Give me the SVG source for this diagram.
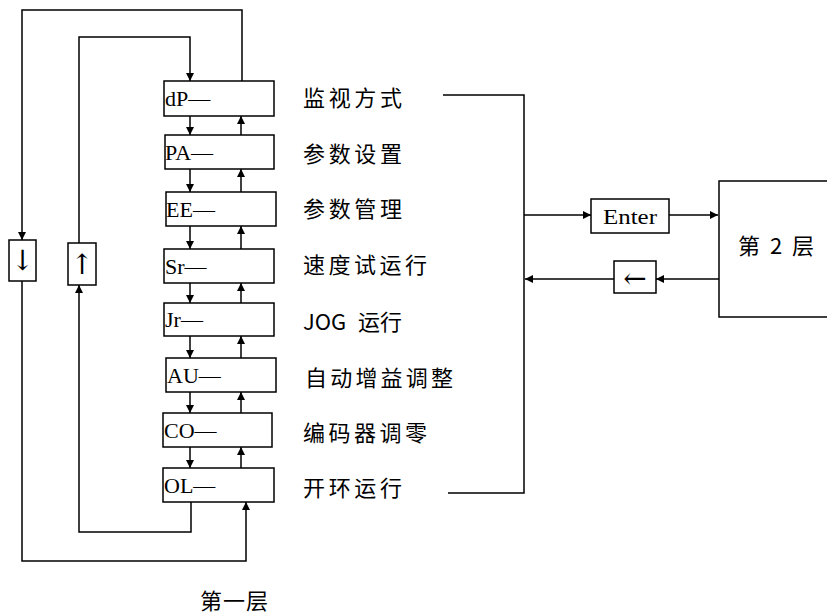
<svg xmlns="http://www.w3.org/2000/svg" width="827" height="615" viewBox="0 0 827 615">
<style>
.box{fill:#fff;stroke:#000;stroke-width:1.5}
.ln{fill:none;stroke:#000;stroke-width:1.5}
.code{font-family:"Liberation Serif","DejaVu Serif",serif;font-size:22px;fill:#000}
.lab{font-family:"Noto Sans CJK SC","Noto Sans",sans-serif;font-size:22px;fill:#000}
.sym{font-family:"DejaVu Serif","Liberation Serif",serif;font-size:28px;fill:#000}
</style>
<defs>
<marker id="ah" viewBox="0 0 10 10" refX="10" refY="5" markerWidth="8" markerHeight="8" markerUnits="userSpaceOnUse" orient="auto">
<path d="M0,0 L10,5 L0,10 z" fill="#000"/>
</marker>
</defs>
<rect width="827" height="615" fill="#fff"/>
<g id="connectors">
<polyline class="ln" points="242,81 242,10 22,10 22,240" marker-end="url(#ah)"/>
<polyline class="ln" points="22,281 22,561 246,561 246,502" marker-end="url(#ah)"/>
<polyline class="ln" points="79,243 79,37 190,37 190,81" marker-end="url(#ah)"/>
<polyline class="ln" points="191,502 191,532 79,532 79,285" marker-end="url(#ah)"/>
<line class="ln" x1="190" y1="116" x2="190" y2="135" marker-end="url(#ah)"/>
<line class="ln" x1="241" y1="135" x2="241" y2="116" marker-end="url(#ah)"/>
<line class="ln" x1="190" y1="169" x2="190" y2="192" marker-end="url(#ah)"/>
<line class="ln" x1="241" y1="192" x2="241" y2="169" marker-end="url(#ah)"/>
<line class="ln" x1="190" y1="226" x2="190" y2="249" marker-end="url(#ah)"/>
<line class="ln" x1="241" y1="249" x2="241" y2="226" marker-end="url(#ah)"/>
<line class="ln" x1="190" y1="283" x2="190" y2="303" marker-end="url(#ah)"/>
<line class="ln" x1="241" y1="303" x2="241" y2="283" marker-end="url(#ah)"/>
<line class="ln" x1="190" y1="336" x2="190" y2="358" marker-end="url(#ah)"/>
<line class="ln" x1="241" y1="358" x2="241" y2="336" marker-end="url(#ah)"/>
<line class="ln" x1="190" y1="392" x2="190" y2="413" marker-end="url(#ah)"/>
<line class="ln" x1="241" y1="413" x2="241" y2="392" marker-end="url(#ah)"/>
<line class="ln" x1="190" y1="447" x2="190" y2="468" marker-end="url(#ah)"/>
<line class="ln" x1="241" y1="468" x2="241" y2="447" marker-end="url(#ah)"/>
<polyline class="ln" points="443,95 524,95 524,493 448,493"/>
<line class="ln" x1="524" y1="215" x2="591" y2="215" marker-end="url(#ah)"/>
<line class="ln" x1="669" y1="215" x2="718" y2="215" marker-end="url(#ah)"/>
<line class="ln" x1="719" y1="279" x2="656" y2="279" marker-end="url(#ah)"/>
<line class="ln" x1="614" y1="279" x2="525" y2="279" marker-end="url(#ah)"/>
</g>
<g id="node-dp"><rect class="box" x="164" y="81" width="110" height="35"/><text class="code" x="165" y="106">dP—</text></g>
<g id="node-pa"><rect class="box" x="165" y="135" width="109" height="34"/><text class="code" x="165" y="160">PA—</text></g>
<g id="node-ee"><rect class="box" x="166" y="192" width="110" height="34"/><text class="code" x="166" y="217">EE—</text></g>
<g id="node-sr"><rect class="box" x="164" y="249" width="110" height="34"/><text class="code" x="165" y="274">Sr—</text></g>
<g id="node-jr"><rect class="box" x="164" y="303" width="110" height="33"/><text class="code" x="165" y="327">Jr—</text></g>
<g id="node-au"><rect class="box" x="166" y="358" width="110" height="34"/><text class="code" x="167" y="383">AU—</text></g>
<g id="node-co"><rect class="box" x="163" y="413" width="109" height="34"/><text class="code" x="164" y="438">CO—</text></g>
<g id="node-ol"><rect class="box" x="163" y="468" width="111" height="34"/><text class="code" x="164" y="493">OL—</text></g>
<g id="labels">
<text class="lab" x="303" y="106" textLength="99" lengthAdjust="spacing">监视方式</text>
<text class="lab" x="303" y="162" textLength="99" lengthAdjust="spacing">参数设置</text>
<text class="lab" x="303" y="217" textLength="99" lengthAdjust="spacing">参数管理</text>
<text class="lab" x="303" y="273" textLength="124" lengthAdjust="spacing">速度试运行</text>
<text class="lab" x="303" y="330">JOG<tspan x="358">运行</tspan></text>
<text class="lab" x="305" y="386" textLength="148" lengthAdjust="spacing">自动增益调整</text>
<text class="lab" x="303" y="441" textLength="124" lengthAdjust="spacing">编码器调零</text>
<text class="lab" x="303" y="496" textLength="99" lengthAdjust="spacing">开环运行</text>
</g>
<g id="node-down"><rect class="box" x="9" y="240" width="27" height="41"/><text class="sym" x="22.5" y="270" text-anchor="middle">↓</text></g>
<g id="node-up"><rect class="box" x="68" y="243" width="28" height="42"/><text class="sym" x="82" y="274" text-anchor="middle">↑</text></g>
<g id="node-enter"><rect class="box" x="591" y="199" width="78" height="34"/><text class="code" x="630" y="224" text-anchor="middle" textLength="54" lengthAdjust="spacingAndGlyphs">Enter</text></g>
<g id="node-back"><rect class="box" x="614" y="261" width="42" height="32"/><text class="sym" x="635" y="288" text-anchor="middle">←</text></g>
<g id="node-layer2"><rect class="box" x="719" y="181" width="120" height="136"/><text class="lab" x="738" y="254" textLength="76" lengthAdjust="spacing">第 2 层</text></g>
<g id="title"><text class="lab" x="200" y="609" fill="#222" textLength="68" lengthAdjust="spacing">第一层</text></g>
</svg>
